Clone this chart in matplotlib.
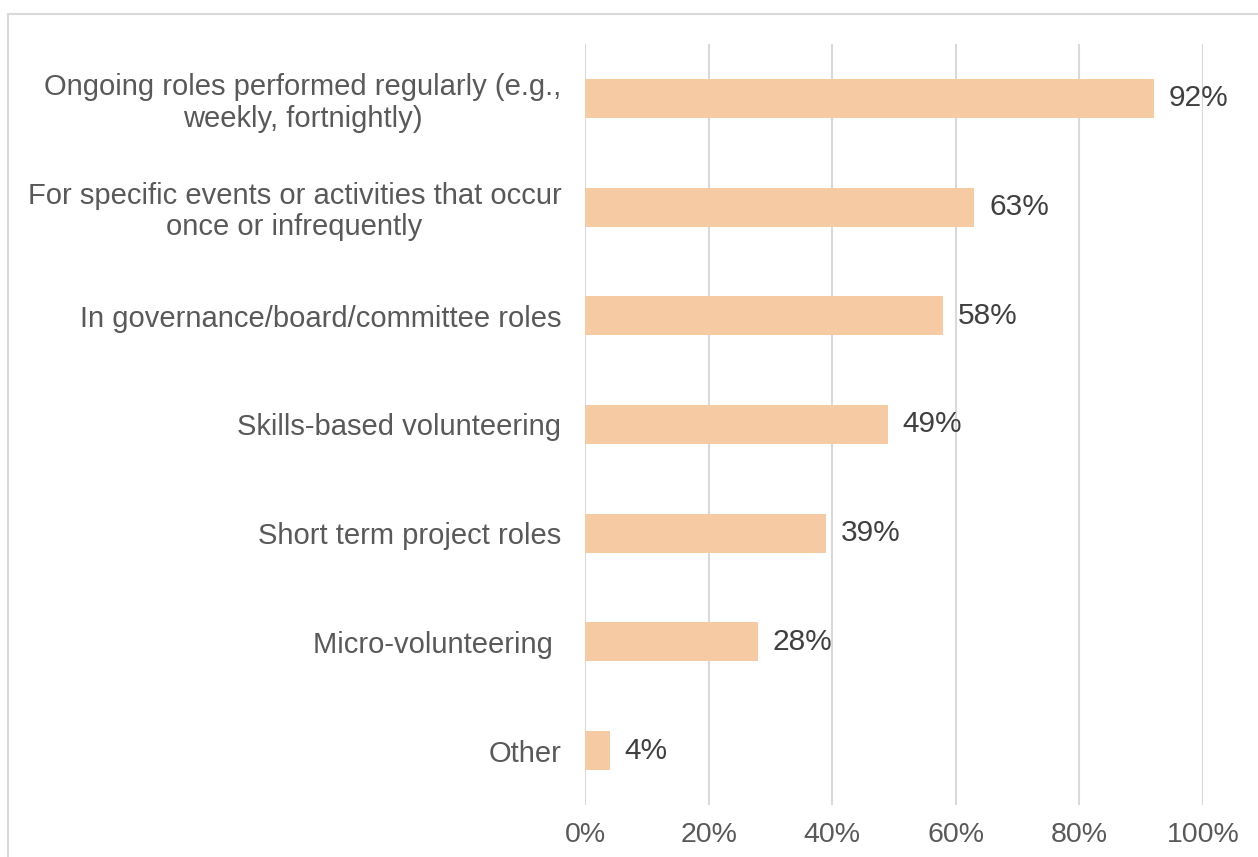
import matplotlib.pyplot as plt
from matplotlib.patches import Rectangle

plt.rcParams['font.family'] = ['Liberation Sans', 'DejaVu Sans']

labels = ['Ongoing roles performed regularly (e.g.,\nweekly, fortnightly)',
          'For specific events or activities that occur\nonce or infrequently',
          'In governance/board/committee roles',
          'Skills-based volunteering',
          'Short term project roles',
          'Micro-volunteering ',
          'Other']
values = [92, 63, 58, 49, 39, 28, 4]
ticks = [0, 20, 40, 60, 80, 100]

BAR_COLOR = '#F6CBA4'
GRID_COLOR = '#d9d9d9'

fig = plt.figure(figsize=(12.58, 8.57), dpi=100)
ax = fig.add_axes([585 / 1258, 52 / 857, 618 / 1258, 761 / 857])

y = list(range(len(labels)))
ax.barh(y, values, height=0.36, color=BAR_COLOR, zorder=2)
for yi, v in zip(y, values):
    ax.text(v + 2.4, yi, f'{v}%', va='center', ha='left', fontsize=21.5, color='#404040')

ax.set_xlim(0, 100)
ax.set_ylim(len(labels) - 0.5, -0.5)
ax.set_xticks(ticks)
ax.set_xticklabels([f'{t}%' for t in ticks], fontsize=20.5, color='#595959')
ax.set_yticks(y)
ax.set_yticklabels(labels, fontsize=21, color='#595959', multialignment='center',
                   linespacing=1.15)
ax.tick_params(axis='both', length=0)
ax.tick_params(axis='x', pad=12)
ax.tick_params(axis='y', pad=17)
ax.grid(axis='x', color=GRID_COLOR, linewidth=1.5, zorder=0)
ax.set_axisbelow(True)
for s in ax.spines.values():
    s.set_visible(False)

# outer chart border (cut by image edge on right and bottom)
fig.patches.append(Rectangle((8 / 1258, -0.05), 1.2, 1 - 14 / 857 + 0.05,
                             transform=fig.transFigure, fill=False,
                             edgecolor=GRID_COLOR, linewidth=1.5, clip_on=False))

fig.savefig('out.png', dpi=100)
